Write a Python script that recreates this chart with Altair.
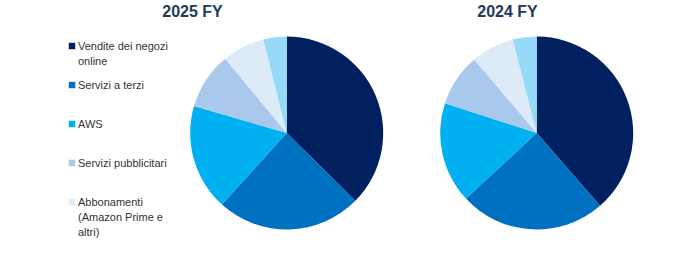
import altair as alt
import pandas as pd

categories = [
    "Vendite dei negozi online",
    "Servizi a terzi",
    "AWS",
    "Servizi pubblicitari",
    "Abbonamenti (Amazon Prime e altri)",
    "Negozi fisici e altro",
]
legend_labels = [
    "Vendite dei negozi\nonline",
    "Servizi a terzi",
    "AWS",
    "Servizi pubblicitari",
    "Abbonamenti\n(Amazon Prime e\naltri)",
]
share_2025 = [37.4, 24.3, 17.8, 9.5, 7.1, 3.9]
share_2024 = [38.6, 24.5, 16.9, 8.8, 7.2, 4.0]
years = ["2025 FY", "2024 FY"]
colors = ["#002060", "#0070C0", "#00B0F0", "#A9C9EC", "#DDEAF7", "#97D9F8"]

rows = []
for i, c in enumerate(categories):
    rows.append({"year": years[0], "cat": c, "idx": i, "value": share_2025[i]})
    rows.append({"year": years[1], "cat": c, "idx": i, "value": share_2024[i]})
df = pd.DataFrame(rows)

leg = pd.DataFrame({"cat": categories[:5], "label": legend_labels, "idx": list(range(5))})
titles = pd.DataFrame({"year": years})

color = alt.Color("cat:N", scale=alt.Scale(domain=categories, range=colors), legend=None)

def pie(year, cx):
    return alt.Chart(df).transform_filter(alt.datum.year == year).mark_arc(radius=96.5).encode(
        theta=alt.Theta("value:Q", stack=True),
        order=alt.Order("idx:Q"),
        color=color,
        x=alt.value(cx),
        y=alt.value(133),
    )

def title(year, cx):
    return alt.Chart(titles).transform_filter(alt.datum.year == year).mark_text(
        font="Liberation Sans", fontSize=16, fontWeight="bold", color="#1F3A5A",
        align="center", baseline="alphabetic"
    ).encode(text="year:N", x=alt.value(cx), y=alt.value(17))

ypos = alt.Y("idx:Q", scale=alt.Scale(domain=[0, 4], range=[46, 202]), axis=None)

leg_sq = alt.Chart(leg).mark_square(size=42, opacity=1, filled=True).encode(
    x=alt.value(72), y=ypos, color=color
)
leg_tx = alt.Chart(leg).mark_text(
    font="Liberation Sans", fontSize=11, color="#333333", align="left",
    baseline="alphabetic", dy=4, lineBreak="\n", lineHeight=15
).encode(x=alt.value(78), y=ypos, text="label:N")

chart = alt.layer(
    pie(years[0], 286.7), pie(years[1], 536.7),
    title(years[0], 192.5), title(years[1], 507.5),
    leg_sq, leg_tx,
).resolve_scale(theta="independent").properties(
    width=674, height=253, autosize=alt.AutoSizeParams(type="none"), padding=0
).configure_view(stroke=None)

chart.save("out.html", embed_options={"renderer": "svg", "actions": False})
